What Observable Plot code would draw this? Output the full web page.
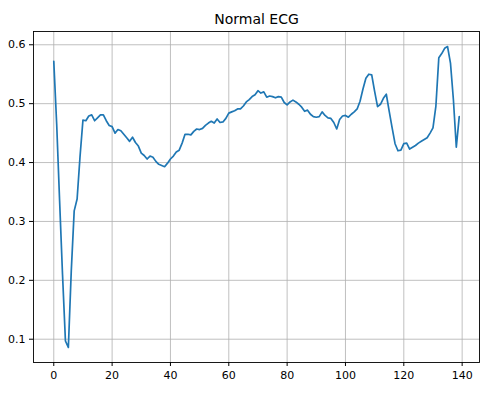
<!DOCTYPE html>
<html>
<head>
<meta charset="utf-8">
<script src="https://cdn.jsdelivr.net/npm/d3@7"></script>
<script src="https://cdn.jsdelivr.net/npm/@observablehq/plot@0.6"></script>
<style>
  html, body { margin: 0; padding: 0; background: #fff; }
  #chart svg { display: block; }
</style>
</head>
<body>
<div id="chart"></div>
<script>
const title = "Normal ECG";
const ecg = [
  0.572, 0.465, 0.335, 0.210, 0.097, 0.086, 0.216, 0.318, 0.338, 0.410,
  0.472, 0.471, 0.479, 0.481, 0.471, 0.476, 0.481, 0.481, 0.471, 0.463,
  0.461, 0.450, 0.456, 0.454, 0.448, 0.442, 0.436, 0.443, 0.434, 0.428,
  0.416, 0.412, 0.406, 0.411, 0.409, 0.402, 0.397, 0.395, 0.393, 0.399,
  0.406, 0.411, 0.418, 0.421, 0.433, 0.448, 0.448, 0.447, 0.453, 0.457,
  0.456, 0.458, 0.463, 0.467, 0.470, 0.467, 0.474, 0.468, 0.469, 0.475,
  0.484, 0.486, 0.488, 0.491, 0.491, 0.496, 0.503, 0.507, 0.512, 0.515,
  0.522, 0.518, 0.520, 0.511, 0.513, 0.512, 0.510, 0.512, 0.511, 0.502,
  0.498, 0.503, 0.506, 0.503, 0.499, 0.494, 0.487, 0.489, 0.482, 0.478,
  0.477, 0.478, 0.486, 0.480, 0.476, 0.475, 0.468, 0.457, 0.473, 0.479,
  0.480, 0.477, 0.482, 0.486, 0.491, 0.504, 0.525, 0.543, 0.550, 0.549,
  0.521, 0.495, 0.499, 0.509, 0.516, 0.487, 0.459, 0.432, 0.420, 0.421,
  0.432, 0.433, 0.423, 0.426, 0.429, 0.433, 0.436, 0.439, 0.442, 0.450,
  0.459, 0.496, 0.578, 0.585, 0.594, 0.597, 0.569, 0.507, 0.426, 0.478
];
const xTicks = [0, 20, 40, 60, 80, 100, 120, 140];
const yTicks = [0.1, 0.2, 0.3, 0.4, 0.5, 0.6];

const data = ecg.map((v, i) => ({i, v}));

// matplotlib-like 5% margins
const xMin = 0, xMax = ecg.length - 1;
const xPad = (xMax - xMin) * 0.05;
const yMin = d3.min(ecg), yMax = d3.max(ecg);
const yPad = (yMax - yMin) * 0.05;

const chart = Plot.plot({
  width: 501,
  height: 398,
  marginLeft: 33,
  marginRight: 22,
  marginTop: 31,
  marginBottom: 36,
  style: {fontFamily: "DejaVu Sans, sans-serif", fontSize: "11px", color: "#000", background: "#fff"},
  x: {domain: [xMin - xPad, xMax + xPad]},
  y: {domain: [yMin - yPad, yMax + yPad]},
  marks: [
    Plot.gridX(xTicks, {stroke: "#b0b0b0", strokeOpacity: 1, strokeWidth: 0.8}),
    Plot.gridY(yTicks, {stroke: "#b0b0b0", strokeOpacity: 1, strokeWidth: 0.8}),
    Plot.line(data, {x: "i", y: "v", stroke: "#1f77b4", strokeWidth: 1.7}),
    Plot.frame({stroke: "#000", strokeWidth: 0.9}),
    Plot.axisX(xTicks, {tickSize: 4, tickPadding: 5, fontSize: 11, label: null, tickFormat: d => String(d)}),
    Plot.axisY(yTicks, {tickSize: 4, tickPadding: 4, fontSize: 11, label: null, tickFormat: d3.format(".1f")}),
    Plot.text([title], {frameAnchor: "top", dy: -8, lineAnchor: "bottom", fontSize: 14, fill: "#000"})
  ]
});
document.getElementById("chart").appendChild(chart);
</script>
</body>
</html>
